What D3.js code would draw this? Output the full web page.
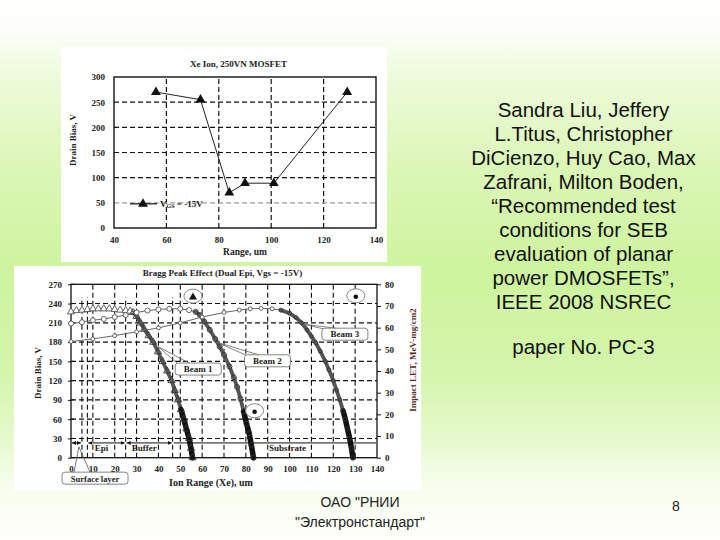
<!DOCTYPE html>
<html><head><meta charset="utf-8">
<script src="https://cdn.jsdelivr.net/npm/d3@7"></script>
<style>html,body{margin:0;padding:0;background:#fff}svg{display:block}</style>
</head><body>
<svg id="s" width="720" height="540"></svg>
<script>
// ---------- Top chart data ----------
const topRange = [56, 73, 84, 90, 101, 129];
const topBias = [270, 255, 70, 89, 89, 270];
const topXTicks = [40, 60, 80, 100, 120, 140];
const topYTicks = [0, 50, 100, 150, 200, 250, 300];
const topTitle = "Xe Ion, 250VN MOSFET";

// ---------- Bottom chart data (Impact LET, MeV-mg/cm2) ----------
const b1Range = [0, 2.5, 5, 7.5, 10, 12.5, 15, 17.5, 20, 22.5, 25, 27, 28.5, 30, 31.8, 33.5, 35.5, 37.6, 39.8, 41.9, 44, 46, 47.5, 49, 50.3, 51.6, 52.8, 54, 54.9, 55.6];
const b1LET = [67.3, 67.9, 68.1, 68.4, 68.7, 68.7, 68.7, 68.7, 68.4, 68.1, 67.9, 67.6, 67.0, 65.2, 62.2, 59.3, 56.3, 53.3, 48.9, 44.4, 40.0, 35.6, 31.1, 26.7, 22.2, 17.8, 13.3, 8.9, 4.4, 0];
const b2Range = [0, 5, 10, 15, 20, 25, 30, 35, 40, 45, 50, 54, 57, 59, 61, 63.5, 66, 68, 70, 72.5, 74.5, 76, 77.5, 79, 80.3, 81.5, 82.5, 83.5];
const b2LET = [61.9, 62.5, 63.4, 64.0, 64.9, 65.8, 67.0, 67.9, 68.4, 68.7, 68.7, 68.1, 67.3, 65.8, 62.8, 59.0, 54.8, 51.3, 47.4, 42.1, 37.0, 32.6, 27.3, 21.3, 15.7, 11.3, 5.9, 0];
const b3Range = [0, 10, 20, 30, 40, 50, 60, 70, 77, 82, 87, 92, 96, 100, 103, 105.5, 108, 110, 112, 114, 116.4, 118, 120, 121.5, 123, 124.5, 125.5, 126.5, 127.5, 128.3, 129];
const b3LET = [53.6, 54.8, 56.3, 58.1, 59.9, 62.2, 64.9, 67.0, 68.1, 68.7, 68.9, 68.7, 68.1, 66.7, 64.6, 62.2, 59.0, 56.0, 53.0, 49.2, 44.4, 40.6, 35.6, 31.1, 26.7, 21.6, 17.8, 13.3, 8.9, 4.4, 0];
const beamNames = ["Beam 1", "Beam 2", "Beam 3"];
const bottomXTicks = [0, 10, 20, 30, 40, 50, 60, 70, 80, 90, 100, 110, 120, 130, 140];
const biasTicks = [0, 30, 60, 90, 120, 150, 180, 210, 240, 270];
const letTicks = [0, 10, 20, 30, 40, 50, 60, 70, 80];
const bottomTitle = "Bragg Peak Effect (Dual Epi, Vgs = -15V)";

// SEB points (range um, drain bias V)
const sebRange = [55.8, 84, 130.3];
const sebBias = [250, 71.6, 250.6];
const sebSymbol = ["triangle", "dot", "dot"];

// Layers
const layerNames = ["Surface layer", "Epi", "Buffer", "Substrate"];
const layerStart = [0, 7.5, 25, 46.5];
const layerEnd = [5, 25, 46.5, 140];
const layerLabelAt = [null, 14, 33.5, 99];
const layerBoundaries = [5, 7.5, 25, 46.5];

// Callouts (data coords: range um, bias V)
const calloutTipX = [39.9, 66.5, 106.1];
const calloutTipY = [172.8, 180, 208];
const calloutBoxX = [58.2, 89.9, 125.3];
const calloutBoxY = [138, 150.9, 192.3];

// Slide text
const refLines = ["Sandra Liu, Jeffery", "L.Titus, Christopher", "DiCienzo, Huy Cao, Max", "Zafrani, Milton Boden,",
  "\u201CRecommended test", "conditions for SEB", "evaluation of planar", "power DMOSFETs\u201D,", "IEEE 2008 NSREC"];
const paperLine = "paper No. PC-3";
const footerLines = ["ОАО \"РНИИ", "\"Электронстандарт\""];
const pageNum = "8";

// ---------- Drawing ----------
const svg = d3.select("#s");
const defs = svg.append("defs");
const grad = defs.append("linearGradient").attr("id", "bg").attr("x1", 0).attr("y1", 0).attr("x2", 0).attr("y2", 1);
[[0, "#ffffff"], [0.06, "#fdfef9"], [0.12, "#f1fbe0"], [0.3, "#dcf7b8"], [0.5, "#cef49e"], [0.68, "#d4f5aa"], [0.8, "#e4f9c8"], [0.9, "#f7fdee"], [1, "#fffffb"]]
  .forEach(([o, c]) => grad.append("stop").attr("offset", o).attr("stop-color", c));
svg.append("rect").attr("width", 720).attr("height", 540).attr("fill", "url(#bg)");

const serif = "'Liberation Serif','Times New Roman',serif";
const sans = "'Liberation Sans',Arial,sans-serif";

// ===== Top chart =====
svg.append("rect").attr("x", 61).attr("y", 47).attr("width", 326).attr("height", 215).attr("fill", "#fff");
const tx = d3.scaleLinear().domain([40, 140]).range([114, 376]);
const ty = d3.scaleLinear().domain([0, 300]).range([228, 77]);
const tg = svg.append("g");
tg.selectAll(".vg").data(topXTicks.slice(1, -1)).join("line")
  .attr("x1", d => tx(d)).attr("x2", d => tx(d)).attr("y1", ty(0)).attr("y2", ty(300))
  .attr("stroke", "#111").attr("stroke-width", 1.2).attr("stroke-dasharray", "5,3");
tg.selectAll(".hg").data(topYTicks.slice(1, -1)).join("line")
  .attr("x1", tx(40)).attr("x2", tx(140)).attr("y1", d => ty(d)).attr("y2", d => ty(d))
  .attr("stroke", d => d === 50 ? "#999" : "#111").attr("stroke-width", 1.2).attr("stroke-dasharray", "5,3");
tg.append("rect").attr("x", tx(40)).attr("y", ty(300)).attr("width", tx(140) - tx(40)).attr("height", ty(0) - ty(300))
  .attr("fill", "none").attr("stroke", "#111").attr("stroke-width", 1.4);
const txAxis = tg.append("g").attr("transform", `translate(0,${ty(0)})`)
  .call(d3.axisBottom(tx).tickValues(topXTicks).tickSize(0).tickPadding(9));
const tyAxis = tg.append("g").attr("transform", `translate(${tx(40)},0)`)
  .call(d3.axisLeft(ty).tickValues(topYTicks).tickSize(0).tickPadding(9));
[txAxis, tyAxis].forEach(a => {
  a.select(".domain").remove();
  a.selectAll("text").attr("font-family", serif).attr("font-weight", "bold").attr("font-size", 9).attr("fill", "#222");
});
tg.append("path").attr("d", d3.line()(topRange.map((x, i) => [tx(x), ty(topBias[i])])))
  .attr("fill", "none").attr("stroke", "#222").attr("stroke-width", 1);
tg.selectAll(".tm").data(topRange).join("path")
  .attr("transform", (d, i) => `translate(${tx(d)},${ty(topBias[i])})`)
  .attr("d", d3.symbol(d3.symbolTriangle, 42)).attr("fill", "#111");
// legend
const legY = ty(48);
tg.append("line").attr("x1", 130).attr("x2", 157).attr("y1", legY).attr("y2", legY).attr("stroke", "#111").attr("stroke-width", 1.2);
tg.append("path").attr("transform", `translate(143,${legY})`).attr("d", d3.symbol(d3.symbolTriangle, 42)).attr("fill", "#111");
const lt = tg.append("text").attr("x", 160).attr("y", legY + 3).attr("font-family", serif).attr("font-weight", "bold").attr("font-size", 9).attr("fill", "#222");
lt.append("tspan").text("V");
lt.append("tspan").attr("font-size", 6).attr("dy", 1.5).text("GS");
lt.append("tspan").attr("dy", -1.5).text(" = -15V");
tg.append("text").attr("x", 238.5).attr("y", 67).attr("text-anchor", "middle").attr("font-family", serif).attr("font-weight", "bold").attr("font-size", 9).attr("fill", "#222").text(topTitle);
tg.append("text").attr("x", 245).attr("y", 255).attr("text-anchor", "middle").attr("font-family", serif).attr("font-weight", "bold").attr("font-size", 9.5).attr("fill", "#222").text("Range, um");
tg.append("text").attr("transform", "translate(76,140) rotate(-90)").attr("text-anchor", "middle").attr("font-family", serif).attr("font-weight", "bold").attr("font-size", 9).attr("fill", "#222").text("Drain Bias, V");

// ===== Bottom chart =====
svg.append("rect").attr("x", 14).attr("y", 266).attr("width", 407).attr("height", 224).attr("fill", "#fff");
const xB = d3.scaleLinear().domain([0, 140]).range([71, 377]);
const yB = d3.scaleLinear().domain([0, 270]).range([457.7, 284.3]);
const yL = d3.scaleLinear().domain([0, 80]).range([457.7, 284.3]);
const bg = svg.append("g");
bg.selectAll(".vg").data(bottomXTicks.slice(1, -1)).join("line")
  .attr("x1", d => xB(d)).attr("x2", d => xB(d)).attr("y1", yB(0)).attr("y2", yB(270))
  .attr("stroke", "#111").attr("stroke-width", 1.1).attr("stroke-dasharray", "5,3");
bg.selectAll(".hg").data(biasTicks.slice(1, -1)).join("line")
  .attr("x1", xB(0)).attr("x2", xB(140)).attr("y1", d => yB(d)).attr("y2", d => yB(d))
  .attr("stroke", "#111").attr("stroke-width", 1.1).attr("stroke-dasharray", "5,3");
bg.selectAll(".lb").data(layerBoundaries).join("line")
  .attr("x1", d => xB(d)).attr("x2", d => xB(d)).attr("y1", yB(0)).attr("y2", yB(250))
  .attr("stroke", "#111").attr("stroke-width", 1.1).attr("stroke-dasharray", "5,3");
bg.append("rect").attr("x", xB(0)).attr("y", yB(270)).attr("width", xB(140) - xB(0)).attr("height", yB(0) - yB(270))
  .attr("fill", "none").attr("stroke", "#111").attr("stroke-width", 1.3);
// axes
const bxAxis = bg.append("g").attr("transform", `translate(0,${yB(0)})`)
  .call(d3.axisBottom(xB).tickValues(bottomXTicks).tickSize(0).tickPadding(8));
const blAxis = bg.append("g").attr("transform", `translate(${xB(0)},0)`)
  .call(d3.axisLeft(yB).tickValues(biasTicks).tickSize(3).tickPadding(6));
const brAxis = bg.append("g").attr("transform", `translate(${xB(140)},0)`)
  .call(d3.axisRight(yL).tickValues(letTicks).tickSize(4).tickPadding(4));
[bxAxis, blAxis, brAxis].forEach(a => {
  a.select(".domain").remove();
  a.selectAll("line").attr("stroke", "#111");
  a.selectAll("text").attr("font-family", serif).attr("font-weight", "bold").attr("font-size", 9).attr("fill", "#222");
});
bg.selectAll(".lt").data(biasTicks).join("line").attr("x1", xB(0)).attr("x2", xB(0) + 3)
  .attr("y1", d => yB(d)).attr("y2", d => yB(d)).attr("stroke", "#111");

// layers
defs.append("marker").attr("id", "ar").attr("viewBox", "0 0 6 6").attr("refX", 6).attr("refY", 3)
  .attr("markerWidth", 4).attr("markerHeight", 4).attr("orient", "auto-start-reverse")
  .append("path").attr("d", "M0,0L6,3L0,6z").attr("fill", "#111");
const layerY = yB(23);
layerNames.forEach((n, i) => {
  const ln = bg.append("line").attr("x1", xB(layerStart[i]) + 1).attr("x2", xB(layerEnd[i]) - 1)
    .attr("y1", layerY).attr("y2", layerY).attr("stroke", "#111").attr("stroke-width", 1);
  if (i < 3) ln.attr("marker-start", "url(#ar)").attr("marker-end", "url(#ar)");
  if (layerLabelAt[i] !== null) {
    bg.append("text").attr("x", xB(layerLabelAt[i])).attr("y", yB(10)).attr("text-anchor", "middle")
      .attr("font-family", serif).attr("font-weight", "bold").attr("font-size", 9).attr("fill", "#222").text(n);
  }
});
// surface layer callout
const slTip = [xB(3.6), yB(17)];
const slBox = { x: xB(-4.1), y: yB(-22.5), w: 66, h: 12 };
bg.append("path").attr("d", `M${slBox.x + 12},${slBox.y}L${slTip[0]},${slTip[1]}L${slBox.x + 28},${slBox.y}`)
  .attr("fill", "none").attr("stroke", "#555").attr("stroke-width", 0.8);
bg.append("rect").attr("x", slBox.x).attr("y", slBox.y).attr("width", slBox.w).attr("height", slBox.h).attr("rx", 3)
  .attr("fill", "none").attr("stroke", "#777").attr("stroke-width", 0.9);
bg.append("text").attr("x", slBox.x + slBox.w / 2).attr("y", slBox.y + 9.5).attr("text-anchor", "middle")
  .attr("font-family", serif).attr("font-weight", "bold").attr("font-size", 8.5).attr("fill", "#222").text(layerNames[0]);

// beams
const beams = [
  { x: b1Range, y: b1LET, sym: "tri" },
  { x: b2Range, y: b2LET, sym: "circ" },
  { x: b3Range, y: b3LET, sym: "small" }
];
const line = d3.line();
beams.forEach(b => {
  const pts = b.x.map((x, i) => [xB(x), yL(b.y[i])]);
  const mx = d3.max(b.y), pk = d3.maxIndex(b.y);
  const st = b.y.findIndex((v, i) => i > pk && v < 0.97 * mx) - 1;
  const lowSt = b.y.findIndex((v, i) => i > pk && v < 20) - 1;
  bg.append("path").attr("d", line(pts)).attr("fill", "none").attr("stroke", "#666").attr("stroke-width", 1);
  bg.append("path").attr("d", line(pts.slice(st))).attr("fill", "none").attr("stroke", "#555").attr("stroke-width", 3.8).attr("stroke-linecap", "round");
  bg.append("path").attr("d", line(pts.slice(lowSt))).attr("fill", "none").attr("stroke", "#111").attr("stroke-width", 5.5).attr("stroke-linecap", "round");
  const m = bg.append("g").selectAll("path").data(pts).join("path")
    .attr("transform", d => `translate(${d[0]},${d[1]})`)
    .attr("fill", (d, i) => i >= st ? "none" : "#fff")
    .attr("stroke", (d, i) => i >= st ? "#333" : "#555").attr("stroke-width", 0.9);
  if (b.sym === "tri") m.attr("d", d3.symbol(d3.symbolTriangle, 22));
  else if (b.sym === "circ") m.attr("d", d3.symbol(d3.symbolCircle, 20));
  else m.attr("d", d3.symbol(d3.symbolCircle, 12));
});

// SEB points
sebRange.forEach((x, i) => {
  const cx = xB(x), cy = yB(sebBias[i]);
  bg.append("ellipse").attr("cx", cx).attr("cy", cy - 1).attr("rx", 9).attr("ry", 7)
    .attr("fill", "#fff").attr("stroke", "#888").attr("stroke-width", 1);
  if (sebSymbol[i] === "triangle") bg.append("path").attr("transform", `translate(${cx},${cy})`).attr("d", d3.symbol(d3.symbolTriangle, 28)).attr("fill", "#111");
  else bg.append("circle").attr("cx", cx).attr("cy", cy).attr("r", 2.3).attr("fill", "#111");
});

// callouts
beamNames.forEach((n, i) => {
  const tip = [xB(calloutTipX[i]), yB(calloutTipY[i])];
  const bw = 46, bh = 12;
  const bx = xB(calloutBoxX[i]) - bw / 2, by = yB(calloutBoxY[i]) - bh / 2;
  bg.append("path").attr("d", `M${bx + 3},${by + 1}L${tip[0]},${tip[1]}L${bx + 14},${by}`)
    .attr("fill", "none").attr("stroke", "#666").attr("stroke-width", 0.8);
  bg.append("rect").attr("x", bx).attr("y", by).attr("width", bw).attr("height", bh).attr("rx", 3)
    .attr("fill", "#fff").attr("stroke", "#777").attr("stroke-width", 0.9);
  bg.append("text").attr("x", bx + bw / 2).attr("y", by + 9).attr("text-anchor", "middle")
    .attr("font-family", serif).attr("font-weight", "bold").attr("font-size", 9).attr("fill", "#222").text(n);
});

// titles
bg.append("text").attr("x", 222.5).attr("y", 275.5).attr("text-anchor", "middle").attr("font-family", serif).attr("font-weight", "bold").attr("font-size", 9).attr("fill", "#222").text(bottomTitle);
bg.append("text").attr("x", 211).attr("y", 486).attr("text-anchor", "middle").attr("font-family", serif).attr("font-weight", "bold").attr("font-size", 10).attr("fill", "#222").text("Ion Range (Xe), um");
bg.append("text").attr("transform", "translate(41,373) rotate(-90)").attr("text-anchor", "middle").attr("font-family", serif).attr("font-weight", "bold").attr("font-size", 9).attr("fill", "#222").text("Drain Bias, V");
bg.append("text").attr("transform", "translate(416,360) rotate(-90)").attr("text-anchor", "middle").attr("font-family", serif).attr("font-weight", "bold").attr("font-size", 9).attr("fill", "#5b2b1e").text("Impact LET, MeV-mg/cm2");

// ===== Slide text =====
svg.append("g").selectAll("text").data(refLines).join("text")
  .attr("x", 583.5).attr("y", (d, i) => 117 + i * 24).attr("text-anchor", "middle")
  .attr("font-family", sans).attr("font-size", 20.5).attr("fill", "#111").text(d => d);
svg.append("text").attr("x", 583.5).attr("y", 354).attr("text-anchor", "middle")
  .attr("font-family", sans).attr("font-size", 20.5).attr("fill", "#111").text(paperLine);
svg.append("g").selectAll("text").data(footerLines).join("text")
  .attr("x", 360).attr("y", (d, i) => 507 + i * 20).attr("text-anchor", "middle")
  .attr("font-family", sans).attr("font-size", 14).attr("fill", "#222").text(d => d);
svg.append("text").attr("x", 676).attr("y", 511).attr("text-anchor", "middle")
  .attr("font-family", sans).attr("font-size", 14).attr("fill", "#222").text(pageNum);
</script>
</body></html>
